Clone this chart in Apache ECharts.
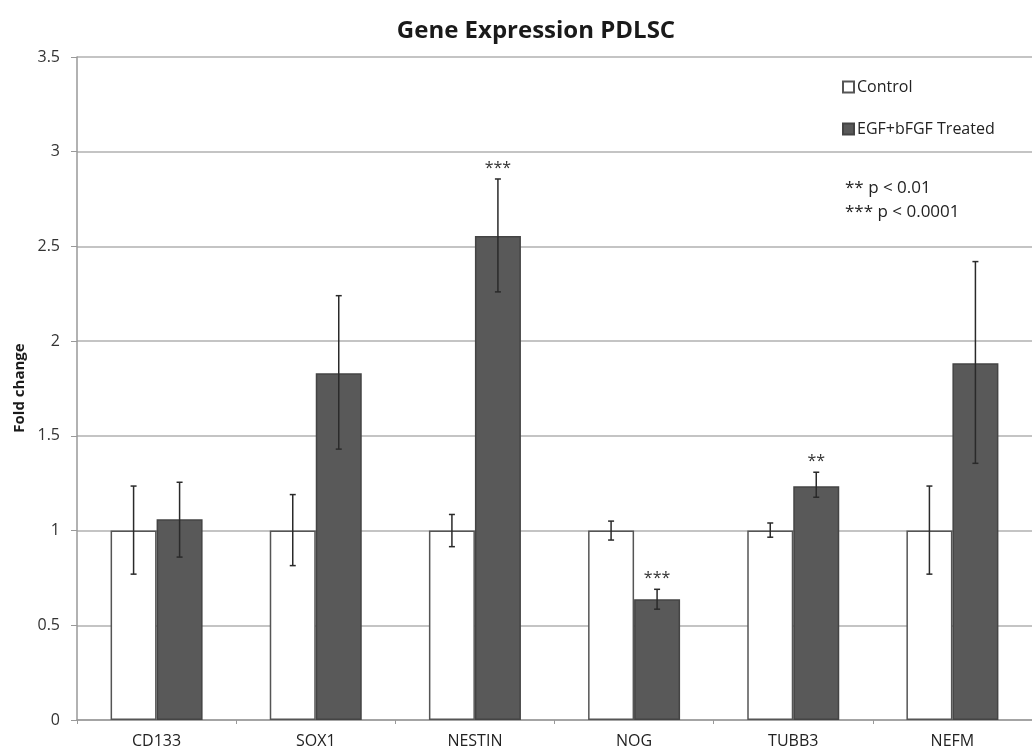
<!DOCTYPE html>
<html>
<head>
<meta charset="utf-8">
<script src="https://cdn.jsdelivr.net/npm/echarts@6/dist/echarts.min.js"></script>
<style>
html,body{margin:0;padding:0;background:#fff;}
#chart{width:1032px;height:754px;}
</style>
</head>
<body>
<div id="chart"></div>
<script>
const categories = ['CD133', 'SOX1', 'NESTIN', 'NOG', 'TUBB3', 'NEFM'];
const controlValues = [1, 1, 1, 1, 1, 1];
const controlErrHigh = [1.235, 1.19, 1.085, 1.05, 1.04, 1.235];
const controlErrLow = [0.77, 0.815, 0.915, 0.95, 0.965, 0.77];
const treatedValues = [1.06, 1.83, 2.555, 0.637, 1.234, 1.883];
const treatedErrHigh = [1.255, 2.24, 2.856, 0.69, 1.308, 2.42];
const treatedErrLow = [0.86, 1.43, 2.26, 0.585, 1.176, 1.355];
const significance = ['', '', '***', '***', '**', ''];
const seriesNames = ['Control', 'EGF+bFGF Treated'];
const pLegendLines = ['** p < 0.01', '*** p < 0.0001'];
const yAxisTitle = 'Fold change';
const chartTitle = 'Gene Expression PDLSC';

const FONT = '"Open Sans", "DejaVu Sans", sans-serif';
const BAR_W = 46;

function errData(hi, lo, sig) {
  return categories.map((c, i) => [i, lo[i], hi[i], sig ? sig[i] : '']);
}

function errRender(offset) {
  return function (params, api) {
    const i = api.value(0);
    const lo = api.coord([i, api.value(1)]);
    const hi = api.coord([i, api.value(2)]);
    const x = lo[0] + offset;
    const cap = 3;
    const style = { stroke: '#2a2a2a', lineWidth: 1.5 };
    const children = [
      { type: 'line', shape: { x1: x, y1: hi[1], x2: x, y2: lo[1] }, style },
      { type: 'line', shape: { x1: x - cap, y1: hi[1], x2: x + cap, y2: hi[1] }, style },
      { type: 'line', shape: { x1: x - cap, y1: lo[1], x2: x + cap, y2: lo[1] }, style }
    ];
    const sig = api.value(3);
    if (sig) {
      children.push({
        type: 'text',
        style: {
          text: sig, x: x, y: hi[1] - 11,
          align: 'center', verticalAlign: 'middle',
          fill: '#333', font: '16px ' + FONT
        }
      });
    }
    return { type: 'group', children };
  };
}

const chart = echarts.init(document.getElementById('chart'), null, { renderer: 'canvas' });
chart.setOption({
  animation: false,
  backgroundColor: '#fff',
  title: {
    text: chartTitle,
    left: 531, top: 14, textAlign: 'center',
    textStyle: { fontFamily: FONT, fontWeight: 'bold', fontSize: 24, color: '#1a1a1a' }
  },
  legend: {
    orient: 'vertical',
    left: 837, top: 72,
    itemGap: 22,
    itemWidth: 11, itemHeight: 11,
    icon: 'rect',
    textStyle: { fontFamily: FONT, fontSize: 16, lineHeight: 20, color: '#222', padding: [0, 0, 0, -2] },
    data: seriesNames
  },
  graphic: [
    {
      type: 'text',
      left: 845, top: 176,
      style: {
        text: pLegendLines.join('\n'),
        font: '17px ' + FONT,
        lineHeight: 24,
        fill: '#222'
      }
    },
    {
      type: 'text',
      x: 20, y: 388,
      rotation: Math.PI / 2,
      style: {
        text: yAxisTitle,
        font: 'bold 15px ' + FONT,
        align: 'center', verticalAlign: 'middle',
        fill: '#1a1a1a'
      }
    }
  ],
  grid: { left: 77, top: 57, bottom: 34, right: -5, containLabel: false },
  xAxis: {
    type: 'category',
    data: categories,
    axisLine: { lineStyle: { color: '#999', width: 1.5 } },
    axisTick: { show: true, length: 4, lineStyle: { color: '#999' } },
    axisLabel: { fontFamily: FONT, fontSize: 16, color: '#222', margin: 13 }
  },
  yAxis: {
    type: 'value',
    min: 0, max: 3.5, interval: 0.5,
    axisLine: { show: true, lineStyle: { color: '#999', width: 1.5 } },
    axisTick: { show: true, length: 6, lineStyle: { color: '#999' } },
    axisLabel: { fontFamily: FONT, fontSize: 16, color: '#333', margin: 17 },
    splitLine: { lineStyle: { color: '#b0b0b0', width: 1.5 } }
  },
  series: [
    {
      name: seriesNames[0], type: 'bar', data: controlValues,
      barWidth: BAR_W, barGap: '0%',
      itemStyle: { color: '#fff', borderColor: '#555', borderWidth: 1.5 },
      z: 2
    },
    {
      name: seriesNames[1], type: 'bar', data: treatedValues,
      barWidth: BAR_W, barGap: '0%',
      itemStyle: { color: '#595959', borderColor: '#444', borderWidth: 1.5 },
      z: 2
    },
    {
      type: 'custom', name: 'ctrlErr', data: errData(controlErrHigh, controlErrLow),
      renderItem: errRender(-BAR_W / 2), z: 5, silent: true,
      encode: { x: 0, y: [1, 2] }
    },
    {
      type: 'custom', name: 'trtErr', data: errData(treatedErrHigh, treatedErrLow, significance),
      renderItem: errRender(BAR_W / 2), z: 5, silent: true,
      encode: { x: 0, y: [1, 2] }
    }
  ]
});
</script>
</body>
</html>
